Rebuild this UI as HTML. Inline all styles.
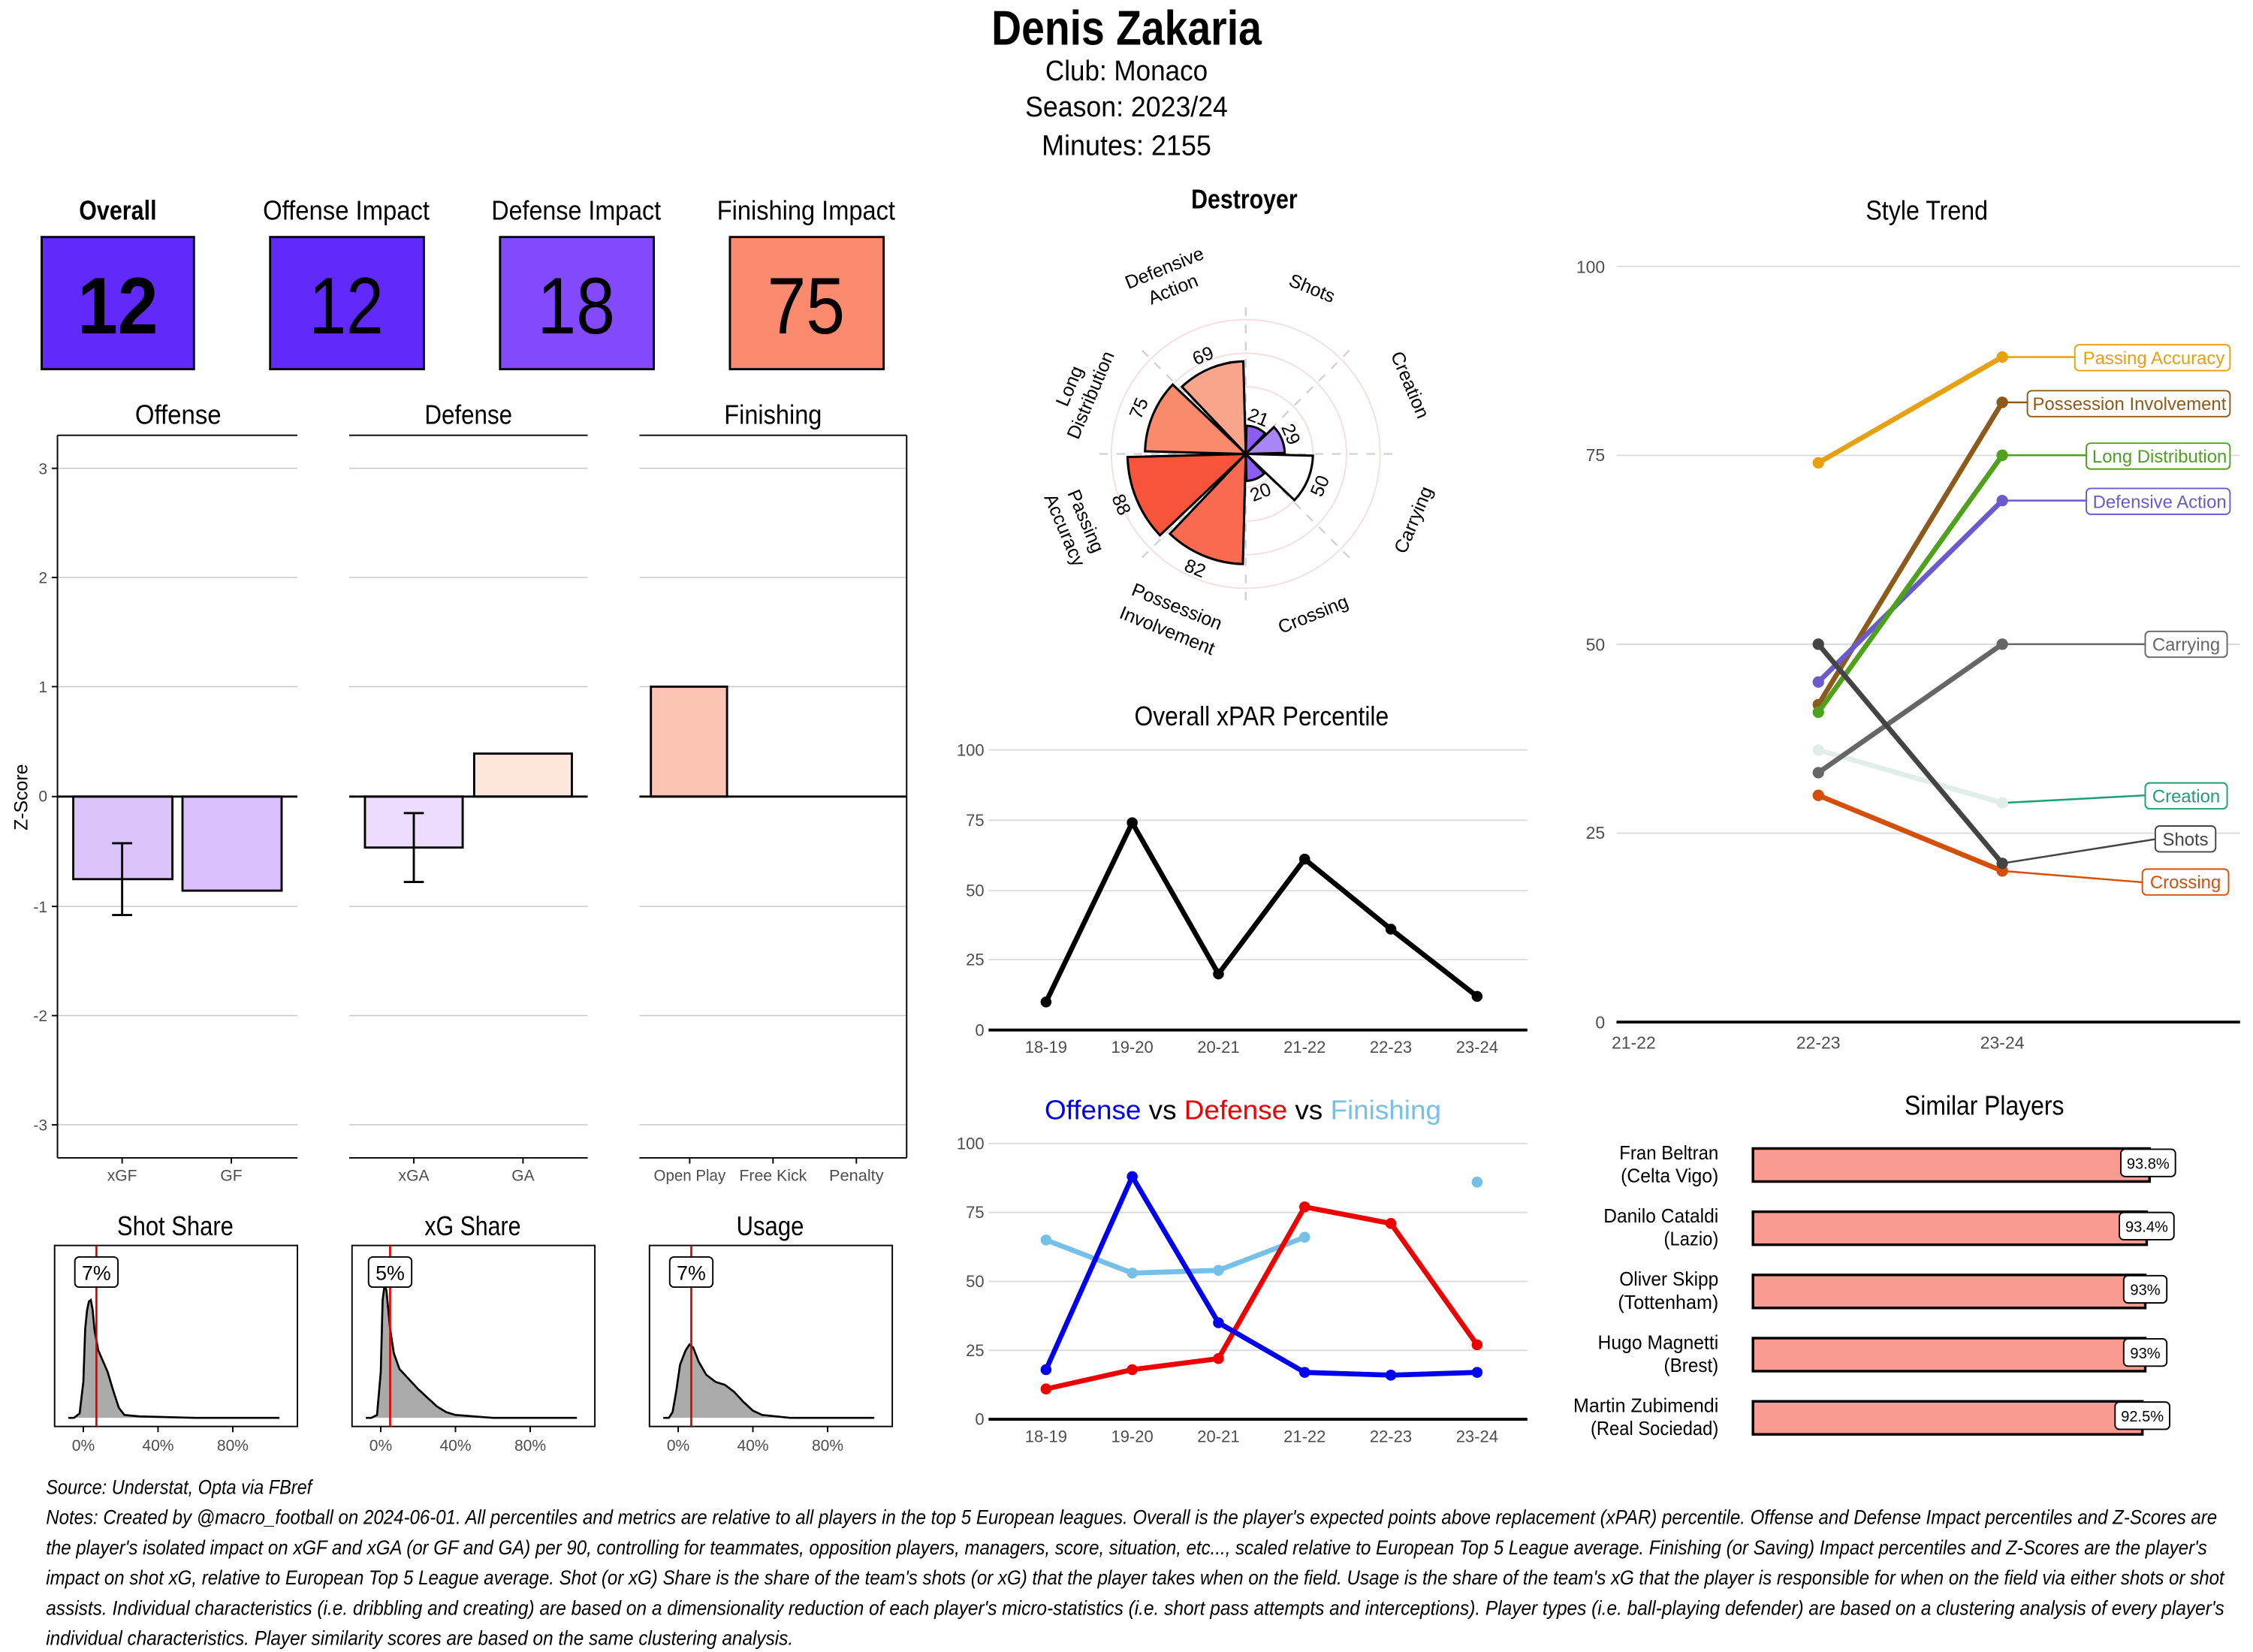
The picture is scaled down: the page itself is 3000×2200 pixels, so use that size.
<!DOCTYPE html>
<html><head><meta charset="utf-8">
<style>
html,body{margin:0;padding:0;background:#fff;}
svg{display:block;}
.n{font-family:"Liberation Sans Narrow","Liberation Sans",sans-serif;}
.a{font-family:"Liberation Sans",sans-serif;}
</style></head>
<body>
<svg id="s" width="3000" height="2200" viewBox="0 0 1568 1150" preserveAspectRatio="none" xmlns="http://www.w3.org/2000/svg">
<rect width="1568" height="1150" fill="#fff"/>
<g class="n" text-anchor="middle" fill="#000" lengthAdjust="spacingAndGlyphs">
<text x="784" y="31" font-size="34" font-weight="bold" textLength="188" lengthAdjust="spacingAndGlyphs">Denis Zakaria</text>
<text x="784" y="56" font-size="20" textLength="113" lengthAdjust="spacingAndGlyphs">Club:  Monaco</text>
<text x="784" y="81" font-size="20" textLength="141" lengthAdjust="spacingAndGlyphs">Season:  2023/24</text>
<text x="784" y="108" font-size="20" textLength="118" lengthAdjust="spacingAndGlyphs">Minutes:  2155</text>
</g>
<g class="n" text-anchor="middle">
<text x="82" y="153" font-size="19" font-weight="bold" textLength="54" lengthAdjust="spacingAndGlyphs">Overall</text>
<text x="241" y="153" font-size="19" textLength="116" lengthAdjust="spacingAndGlyphs">Offense Impact</text>
<text x="401" y="153" font-size="19" textLength="118" lengthAdjust="spacingAndGlyphs">Defense Impact</text>
<text x="561" y="153" font-size="19" textLength="124" lengthAdjust="spacingAndGlyphs">Finishing Impact</text>
<rect x="29" y="165" width="106" height="92" fill="#6229fb" stroke="#000" stroke-width="1.5"/>
<rect x="188" y="165" width="107" height="92" fill="#6229fb" stroke="#000" stroke-width="1.5"/>
<rect x="348" y="165" width="107" height="92" fill="#8349fd" stroke="#000" stroke-width="1.5"/>
<rect x="508" y="165" width="107" height="92" fill="#fb8a6e" stroke="#000" stroke-width="1.5"/>
<text x="82" y="232" font-size="56" font-weight="bold" textLength="56" lengthAdjust="spacingAndGlyphs">12</text>
<text x="241" y="232" font-size="56" textLength="52" lengthAdjust="spacingAndGlyphs">12</text>
<text x="401" y="232" font-size="56" textLength="54" lengthAdjust="spacingAndGlyphs">18</text>
<text x="561" y="232" font-size="56" textLength="54" lengthAdjust="spacingAndGlyphs">75</text>
</g>
<g id="zp" stroke-width="1">
<g stroke="#c8c8c8" stroke-width="0.8">
<line x1="40" x2="207" y1="326" y2="326"/><line x1="243" x2="409" y1="326" y2="326"/><line x1="445" x2="631" y1="326" y2="326"/>
<line x1="40" x2="207" y1="402" y2="402"/><line x1="243" x2="409" y1="402" y2="402"/><line x1="445" x2="631" y1="402" y2="402"/>
<line x1="40" x2="207" y1="478" y2="478"/><line x1="243" x2="409" y1="478" y2="478"/><line x1="445" x2="631" y1="478" y2="478"/>
<line x1="40" x2="207" y1="631" y2="631"/><line x1="243" x2="409" y1="631" y2="631"/><line x1="445" x2="631" y1="631" y2="631"/>
<line x1="40" x2="207" y1="707" y2="707"/><line x1="243" x2="409" y1="707" y2="707"/><line x1="445" x2="631" y1="707" y2="707"/>
<line x1="40" x2="207" y1="783" y2="783"/><line x1="243" x2="409" y1="783" y2="783"/><line x1="445" x2="631" y1="783" y2="783"/>
</g>
<g stroke="#000" stroke-width="1">
<line x1="40" x2="207" y1="303" y2="303"/><line x1="243" x2="409" y1="303" y2="303"/><line x1="445" x2="631" y1="303" y2="303"/>
<line x1="40" x2="207" y1="806" y2="806"/><line x1="243" x2="409" y1="806" y2="806"/><line x1="445" x2="631" y1="806" y2="806"/>
<line x1="40" x2="40" y1="303" y2="806"/><line x1="631" x2="631" y1="303" y2="806"/>
<line x1="36" x2="40" y1="326" y2="326"/><line x1="36" x2="40" y1="402" y2="402"/><line x1="36" x2="40" y1="478" y2="478"/><line x1="36" x2="40" y1="554.5" y2="554.5"/><line x1="36" x2="40" y1="631" y2="631"/><line x1="36" x2="40" y1="707" y2="707"/><line x1="36" x2="40" y1="783" y2="783"/>
<line x1="85" x2="85" y1="806" y2="810"/><line x1="161" x2="161" y1="806" y2="810"/><line x1="288" x2="288" y1="806" y2="810"/><line x1="364" x2="364" y1="806" y2="810"/><line x1="480" x2="480" y1="806" y2="810"/><line x1="538" x2="538" y1="806" y2="810"/><line x1="596" x2="596" y1="806" y2="810"/>
</g>
<g stroke="#000" stroke-width="1.5">
<rect x="51" y="554.5" width="69" height="57.5" fill="#dcc4fb"/>
<rect x="127" y="554.5" width="69" height="65.5" fill="#dac0fc"/>
<rect x="254" y="554.5" width="68" height="35.5" fill="#ecdcfd"/>
<rect x="330" y="524.6" width="68" height="29.9" fill="#fee5dc"/>
<rect x="453" y="478" width="53" height="76.5" fill="#fcc4b2"/>
<line x1="40" x2="207" y1="554.5" y2="554.5"/><line x1="243" x2="409" y1="554.5" y2="554.5"/><line x1="445" x2="631" y1="554.5" y2="554.5"/>
<line x1="85" x2="85" y1="587" y2="637"/><line x1="78" x2="92" y1="587" y2="587"/><line x1="78" x2="92" y1="637" y2="637"/>
<line x1="288" x2="288" y1="566" y2="614"/><line x1="281" x2="295" y1="566" y2="566"/><line x1="281" x2="295" y1="614" y2="614"/>
</g>
<g class="n" font-size="11" fill="#4d4d4d" text-anchor="end">
<text x="33" y="330">3</text><text x="33" y="406">2</text><text x="33" y="482">1</text><text x="33" y="558">0</text><text x="33" y="635">-1</text><text x="33" y="711">-2</text><text x="33" y="787">-3</text>
</g>
<g class="n" font-size="11" fill="#4d4d4d" text-anchor="middle">
<text x="85" y="822">xGF</text><text x="161" y="822">GF</text><text x="288" y="822">xGA</text><text x="364" y="822">GA</text><text x="480" y="822" textLength="50" lengthAdjust="spacingAndGlyphs">Open Play</text><text x="538" y="822" textLength="47" lengthAdjust="spacingAndGlyphs">Free Kick</text><text x="596" y="822" textLength="38" lengthAdjust="spacingAndGlyphs">Penalty</text>
</g>
<text class="a" x="19" y="555" font-size="13" text-anchor="middle" transform="rotate(-90 19 555)">Z-Score</text>
<g class="n" font-size="19" text-anchor="middle">
<text x="124" y="295" textLength="60" lengthAdjust="spacingAndGlyphs">Offense</text><text x="326" y="295" textLength="61" lengthAdjust="spacingAndGlyphs">Defense</text><text x="538" y="295" textLength="68" lengthAdjust="spacingAndGlyphs">Finishing</text>
</g>
</g>
<g class="n" font-size="19" text-anchor="middle">
<text x="122" y="860" textLength="81" lengthAdjust="spacingAndGlyphs">Shot Share</text><text x="329" y="860" textLength="67" lengthAdjust="spacingAndGlyphs">xG Share</text><text x="536" y="860" textLength="47" lengthAdjust="spacingAndGlyphs">Usage</text>
</g>
<g id="dens"></g>
<text class="n" x="866" y="145" font-size="19" font-weight="bold" text-anchor="middle" textLength="74" lengthAdjust="spacingAndGlyphs">Destroyer</text>
<g id="polar"></g>
<g class="a" font-size="13" text-anchor="middle" fill="#000">
<text transform="translate(815,198) rotate(-22)"><tspan x="0" y="-8">Defensive</tspan><tspan x="0" y="8">Action</tspan></text>
<text transform="translate(913,201) rotate(22)" y="4">Shots</text>
<text transform="translate(981,268) rotate(67)" y="4">Creation</text>
<text transform="translate(984,362) rotate(-67)" y="4">Carrying</text>
<text transform="translate(914,428) rotate(-22)" y="4">Crossing</text>
<text transform="translate(816,430) rotate(22)"><tspan x="0" y="-4">Possession</tspan><tspan x="0" y="14">Involvement</tspan></text>
<text transform="translate(748,366) rotate(67)"><tspan x="0" y="-4">Passing</tspan><tspan x="0" y="12">Accuracy</tspan></text>
<text transform="translate(752,272) rotate(-67)"><tspan x="0" y="-4">Long</tspan><tspan x="0" y="12">Distribution</tspan></text>
</g>
<g class="a" font-size="13" text-anchor="middle" fill="#000">
<text transform="translate(876,290) rotate(22)" y="5">21</text>
<text transform="translate(899,302) rotate(67)" y="5">29</text>
<text transform="translate(918,338) rotate(-67)" y="5">50</text>
<text transform="translate(877,342) rotate(-22)" y="5">20</text>
<text transform="translate(832,395) rotate(22)" y="5">82</text>
<text transform="translate(781,351) rotate(67)" y="5">88</text>
<text transform="translate(792,284) rotate(-67)" y="5">75</text>
<text transform="translate(837,247) rotate(-22)" y="5">69</text>
</g>
<text class="n" x="878" y="505" font-size="19" text-anchor="middle" textLength="177" lengthAdjust="spacingAndGlyphs">Overall xPAR Percentile</text>
<g stroke="#dcdcdc" stroke-width="1">
<line x1="688" x2="1063" y1="522" y2="522"/><line x1="688" x2="1063" y1="571" y2="571"/><line x1="688" x2="1063" y1="620" y2="620"/><line x1="688" x2="1063" y1="668" y2="668"/>
</g>
<line x1="688" x2="1063" y1="717" y2="717" stroke="#000" stroke-width="2"/>
<g class="a" font-size="11.5" fill="#4d4d4d" text-anchor="end">
<text x="685" y="526">100</text><text x="685" y="575">75</text><text x="685" y="624">50</text><text x="685" y="672">25</text><text x="685" y="721">0</text>
</g>
<g class="a" font-size="11.5" fill="#4d4d4d" text-anchor="middle">
<text x="728" y="733">18-19</text><text x="788" y="733">19-20</text><text x="848" y="733">20-21</text><text x="908" y="733">21-22</text><text x="968" y="733">22-23</text><text x="1028" y="733">23-24</text>
</g>
<g id="xpar"></g>
<text class="n" x="865" y="779" font-size="19" text-anchor="middle" textLength="276" lengthAdjust="spacingAndGlyphs"><tspan fill="#0000ee">Offense</tspan><tspan fill="#000">    vs    </tspan><tspan fill="#ee0000">Defense</tspan><tspan fill="#000">    vs    </tspan><tspan fill="#74c0e8">Finishing</tspan></text>
<g stroke="#dcdcdc" stroke-width="1">
<line x1="688" x2="1063" y1="796" y2="796"/><line x1="688" x2="1063" y1="844" y2="844"/><line x1="688" x2="1063" y1="892" y2="892"/><line x1="688" x2="1063" y1="940" y2="940"/>
</g>
<line x1="688" x2="1063" y1="988" y2="988" stroke="#000" stroke-width="2"/>
<g class="a" font-size="11.5" fill="#4d4d4d" text-anchor="end">
<text x="685" y="800">100</text><text x="685" y="848">75</text><text x="685" y="896">50</text><text x="685" y="944">25</text><text x="685" y="992">0</text>
</g>
<g class="a" font-size="11.5" fill="#4d4d4d" text-anchor="middle">
<text x="728" y="1004">18-19</text><text x="788" y="1004">19-20</text><text x="848" y="1004">20-21</text><text x="908" y="1004">21-22</text><text x="968" y="1004">22-23</text><text x="1028" y="1004">23-24</text>
</g>
<g id="ovd"></g>
<text class="n" x="1341" y="153" font-size="19" text-anchor="middle" textLength="85" lengthAdjust="spacingAndGlyphs">Style Trend</text>
<g stroke="#dcdcdc" stroke-width="1">
<line x1="1125" x2="1559" y1="185.4" y2="185.4"/><line x1="1125" x2="1559" y1="317" y2="317"/><line x1="1125" x2="1559" y1="448.5" y2="448.5"/><line x1="1125" x2="1559" y1="580" y2="580"/>
</g>
<line x1="1125" x2="1559" y1="711.5" y2="711.5" stroke="#000" stroke-width="2"/>
<g class="a" font-size="12" fill="#4d4d4d" text-anchor="end">
<text x="1117" y="190">100</text><text x="1117" y="321">75</text><text x="1117" y="453">50</text><text x="1117" y="584">25</text><text x="1117" y="716">0</text>
</g>
<g class="a" font-size="12" fill="#4d4d4d" text-anchor="middle">
<text x="1137" y="730">21-22</text><text x="1265.5" y="730">22-23</text><text x="1393.5" y="730">23-24</text>
</g>
<g id="style"></g>
<g class="a" font-size="12.5" text-anchor="middle">
<rect x="1444" y="240" width="108" height="18" rx="3" fill="#fff" stroke="#e6a010"/><text x="1499" y="253.5" fill="#e6a010">Passing Accuracy</text>
<rect x="1411" y="272" width="141" height="18" rx="3" fill="#fff" stroke="#8c5a1a"/><text x="1482" y="285.5" fill="#8c5a1a">Possession Involvement</text>
<rect x="1452" y="308.5" width="100" height="18" rx="3" fill="#fff" stroke="#4ea11c"/><text x="1503" y="322" fill="#4ea11c">Long Distribution</text>
<rect x="1452" y="340" width="100" height="18" rx="3" fill="#fff" stroke="#6a5acd"/><text x="1503" y="353.5" fill="#6a5acd">Defensive Action</text>
<rect x="1493" y="439.5" width="57" height="18" rx="3" fill="#fff" stroke="#666"/><text x="1521.5" y="453" fill="#666">Carrying</text>
<rect x="1493" y="545" width="57" height="18" rx="3" fill="#fff" stroke="#1b9e77"/><text x="1521.5" y="558.5" fill="#1b9e77">Creation</text>
<rect x="1500" y="575" width="42" height="18" rx="3" fill="#fff" stroke="#444"/><text x="1521" y="588.5" fill="#444">Shots</text>
<rect x="1491" y="605" width="60" height="18" rx="3" fill="#fff" stroke="#d4500a"/><text x="1521" y="618.5" fill="#d4500a">Crossing</text>
</g>
<text class="n" x="1381" y="776" font-size="19" text-anchor="middle" textLength="111" lengthAdjust="spacingAndGlyphs">Similar Players</text>
<g id="sim"></g>
<g class="n" font-size="13.5" text-anchor="end" fill="#000">
<text x="1196" y="807" textLength="69" lengthAdjust="spacingAndGlyphs">Fran Beltran</text><text x="1196" y="823" textLength="68" lengthAdjust="spacingAndGlyphs">(Celta Vigo)</text>
<text x="1196" y="851" textLength="80" lengthAdjust="spacingAndGlyphs">Danilo Cataldi</text><text x="1196" y="867" textLength="38" lengthAdjust="spacingAndGlyphs">(Lazio)</text>
<text x="1196" y="895" textLength="69" lengthAdjust="spacingAndGlyphs">Oliver Skipp</text><text x="1196" y="911" textLength="70" lengthAdjust="spacingAndGlyphs">(Tottenham)</text>
<text x="1196" y="939" textLength="84" lengthAdjust="spacingAndGlyphs">Hugo Magnetti</text><text x="1196" y="955" textLength="38" lengthAdjust="spacingAndGlyphs">(Brest)</text>
<text x="1196" y="983" textLength="101" lengthAdjust="spacingAndGlyphs">Martin Zubimendi</text><text x="1196" y="999" textLength="89" lengthAdjust="spacingAndGlyphs">(Real Sociedad)</text>
</g>
<g class="n" font-size="10.5" text-anchor="middle">
<rect x="1476" y="800" width="38" height="19" rx="3" fill="#fff" stroke="#000"/><text x="1495" y="813.5">93.8%</text>
<rect x="1475" y="844" width="38" height="19" rx="3" fill="#fff" stroke="#000"/><text x="1494" y="857.5">93.4%</text>
<rect x="1478" y="888" width="30" height="19" rx="3" fill="#fff" stroke="#000"/><text x="1493" y="901.5">93%</text>
<rect x="1478" y="932" width="30" height="19" rx="3" fill="#fff" stroke="#000"/><text x="1493" y="945.5">93%</text>
<rect x="1472" y="976" width="38" height="19" rx="3" fill="#fff" stroke="#000"/><text x="1491" y="989.5">92.5%</text>
</g>
<g class="n" font-size="14" font-style="italic" fill="#000">
<text x="32" y="1040" textLength="185" lengthAdjust="spacingAndGlyphs">Source: Understat, Opta via FBref</text>
<text x="32" y="1061" textLength="1511" lengthAdjust="spacingAndGlyphs">Notes: Created by @macro_football on 2024-06-01. All percentiles and metrics are relative to all players in the top 5 European leagues. Overall is the player's expected points above replacement (xPAR) percentile. Offense and Defense Impact percentiles and Z-Scores are</text>
<text x="32" y="1082" textLength="1504" lengthAdjust="spacingAndGlyphs">the player's isolated impact on xGF and xGA (or GF and GA) per 90, controlling for teammates, opposition players, managers, score, situation, etc..., scaled relative to European Top 5 League average. Finishing (or Saving) Impact percentiles and Z-Scores are the player's</text>
<text x="32" y="1103" textLength="1516" lengthAdjust="spacingAndGlyphs">impact on shot xG, relative to European Top 5 League average. Shot (or xG) Share is the share of the team's shots (or xG) that the player takes when on the field. Usage is the share of the team's xG that the player is responsible for when on the field via either shots or shot</text>
<text x="32" y="1124" textLength="1516" lengthAdjust="spacingAndGlyphs">assists. Individual characteristics (i.e. dribbling and creating) are based on a dimensionality reduction of each player's micro-statistics (i.e. short pass attempts and interceptions). Player types (i.e. ball-playing defender) are based on a clustering analysis of every player's</text>
<text x="32" y="1145" textLength="520" lengthAdjust="spacingAndGlyphs">individual characteristics. Player similarity scores are based on the same clustering analysis.</text>
</g>
</svg>
<script>
(function(){
var NS="http://www.w3.org/2000/svg";
function el(p,t,a){var e=document.createElementNS(NS,t);for(var k in a)e.setAttribute(k,a[k]);document.getElementById(p).appendChild(e);return e;}
var cx=867,cy=316,k=0.935;
function pt(r,a){a=a*Math.PI/180;return [cx+r*Math.sin(a),cy-r*Math.cos(a)];}
[25,50,75,100].forEach(function(v){el('polar','circle',{cx:cx,cy:cy,r:v*k,fill:'none',stroke:'#f5dde0','stroke-width':1});});
for(var i=0;i<8;i++){var p=pt(104,i*45);el('polar','line',{x1:cx,y1:cy,x2:p[0],y2:p[1],stroke:'#d0d0d0','stroke-width':1.2,'stroke-dasharray':'6,6'});}
var vals=[21,29,50,20,82,88,75,69],cols=['#8b5cf6','#a886f7','#ffffff','#8b5cf6','#fa6a50','#f8543b','#f98a6c','#f9a58b'];
vals.forEach(function(v,i){var r=v*k,a1=i*45+1.5,a2=i*45+43.5;var p1=pt(r,a1),p2=pt(r,a2);
el('polar','path',{d:'M'+cx+','+cy+' L'+p1[0]+','+p1[1]+' A'+r+','+r+' 0 0 1 '+p2[0]+','+p2[1]+' Z',fill:cols[i],stroke:'#000','stroke-width':1.6,'stroke-linejoin':'miter'});});
function dens(x0,y0,pts,red,lab){
 el('dens','rect',{x:x0,y:867,width:169,height:126,fill:'#fff',stroke:'#000','stroke-width':1});
 function X(p){return x0+20+1.3*p;}
 var d='M'+X(-8)+',987';pts.forEach(function(q){d+=' L'+X(q[0])+','+q[1];});d+=' L'+X(105)+',987';
 el('dens','path',{d:d+' Z',fill:'#aaaaaa',stroke:'none'});
 el('dens','path',{d:d,fill:'none',stroke:'#000','stroke-width':1.4});
 el('dens','line',{x1:X(red),x2:X(red),y1:867,y2:993,stroke:'#e00000','stroke-width':1.4});
 [0,40,80].forEach(function(p){el('dens','line',{x1:X(p),x2:X(p),y1:993,y2:997,stroke:'#000'});var t=el('dens','text',{x:X(p),y:1010,'font-size':11,'text-anchor':'middle',fill:'#4d4d4d','class':'n'});t.textContent=p+'%';});
 el('dens','rect',{x:X(red)-15,y:875,width:30,height:21,rx:3,fill:'#fff',stroke:'#000'});
 var t=el('dens','text',{x:X(red),y:891,'font-size':14,'text-anchor':'middle','class':'n'});t.textContent=lab;
}
dens(38,0,[[-5,987],[-2,984],[0,962],[1,925],[2,912],[3,906],[4,905],[5,912],[6,926],[8,940],[10,946],[13,955],[16,968],[19,980],[22,985],[30,986],[60,987],[100,987]],7,'7%');
dens(245,0,[[-5,987],[-2,985],[0,955],[1,905],[2,895],[3,898],[5,925],[7,942],[10,953],[15,960],[20,967],[25,973],[30,979],[35,983],[40,985],[60,987],[100,987]],5,'5%');
dens(452,0,[[-5,987],[-3,983],[-1,968],[1,950],[4,940],[6,936],[8,938],[11,948],[15,957],[20,962],[25,964],[30,969],[35,976],[40,982],[45,985],[60,987],[100,987]],7,'7%');
var xs=[728,788,848,908,968,1028];
function line(g,vs,y,col,w){var d='';vs.forEach(function(v,i){if(v==null)return;d+=(d?' L':'M')+xs[i]+','+y(v);});
 el(g,'path',{d:d,fill:'none',stroke:col,'stroke-width':w,'stroke-linejoin':'round'});
 vs.forEach(function(v,i){if(v==null)return;el(g,'circle',{cx:xs[i],cy:y(v),r:3.8,fill:col});});}
line('xpar',[10,74,20,61,36,12],function(v){return 717-1.95*v;},'#000',3.5);
var y2=function(v){return 988-1.92*v;};
line('ovd',[65,53,54,66,null,null],y2,'#74c0e8',3.5);
el('ovd','circle',{cx:1028,cy:y2(86),r:3.8,fill:'#74c0e8'});
line('ovd',[11,18,22,77,71,27],y2,'#ee0000',3.5);
line('ovd',[18,88,35,17,16,17],y2,'#0000ee',3.5);
function sy(v){return 711.5-5.261*v;}
var xa=1265.5,xb=1393.5;
var S=[[36,29,'#e2ece9','#1b9e77',1493,30],[74,88,'#e6a010','#e6a010',1444,88],[30,20,'#d4500a','#d4500a',1491,18.5],[33,50,'#666','#666',1493,50],[42,82,'#8c5a1a','#8c5a1a',1411,82],[45,69,'#6a5acd','#6a5acd',1452,69],[41,75,'#4ea11c','#4ea11c',1452,75],[50,21,'#444','#444',1500,24.2]];
S.forEach(function(s){
 el('style','line',{x1:xb,y1:sy(s[1]),x2:s[4],y2:sy(s[5]),stroke:s[3],'stroke-width':1.3});
 el('style','line',{x1:xa,y1:sy(s[0]),x2:xb,y2:sy(s[1]),stroke:s[2],'stroke-width':3.5});
 el('style','circle',{cx:xa,cy:sy(s[0]),r:4,fill:s[2]});el('style','circle',{cx:xb,cy:sy(s[1]),r:4,fill:s[2]});});
[[811,1496],[855,1494],[899,1493],[943,1493],[987,1491]].forEach(function(b){
 el('sim','rect',{x:1220,y:b[0]-11.5,width:b[1]-1220,height:23,fill:'#f99b90',stroke:'#000','stroke-width':1.8});});
})();
</script>
</body></html>
